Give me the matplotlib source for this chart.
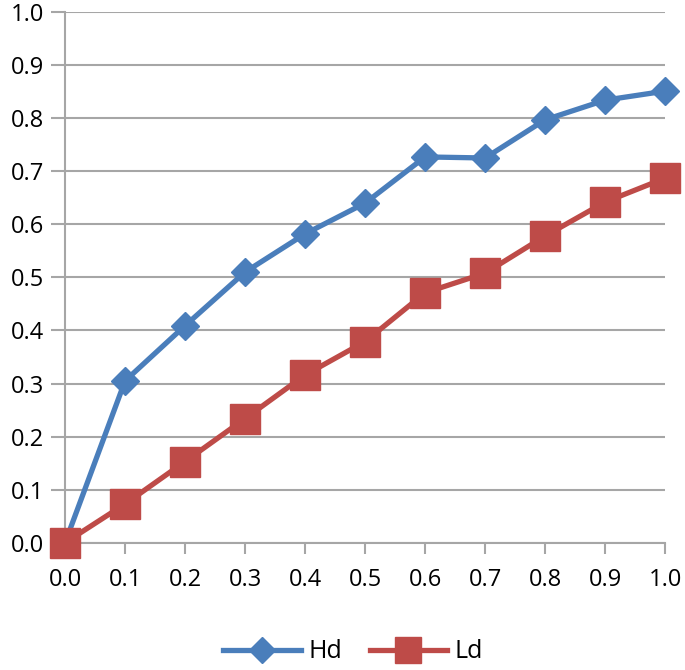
import matplotlib.pyplot as plt
import numpy as np

x = [0.0, 0.1, 0.2, 0.3, 0.4, 0.5, 0.6, 0.7, 0.8, 0.9, 1.0]
hd = [0.0, 0.305, 0.409, 0.510, 0.582, 0.640, 0.727, 0.725, 0.797, 0.834, 0.851]
ld = [0.0, 0.073, 0.153, 0.234, 0.316, 0.379, 0.471, 0.508, 0.578, 0.642, 0.687]

plt.rcParams['font.family'] = ['Open Sans', 'DejaVu Sans']

fig = plt.figure(figsize=(6.85, 6.7), dpi=100)
ax = fig.add_axes([0.095, 0.19, 0.876, 0.792])

ax.plot(x, hd, color='#4a7ebb', linewidth=3.8, marker='D', markersize=14.5,
        label='Hd', clip_on=False, zorder=3)
ax.plot(x, ld, color='#be4b48', linewidth=3.8, marker='s', markersize=21,
        label='Ld', clip_on=False, zorder=3)

ax.set_xlim(0, 1.0)
ax.set_ylim(0, 1.0)
ax.set_xticks(np.arange(0, 1.01, 0.1))
ax.set_yticks(np.arange(0, 1.01, 0.1))
ax.set_xticklabels([f'{v:.1f}' for v in np.arange(0, 1.01, 0.1)])
ax.set_yticklabels([f'{v:.1f}' for v in np.arange(0, 1.01, 0.1)])

ax.grid(axis='y', color='#a6a6a6', linewidth=1.5)
ax.set_axisbelow(True)
for s in ['top', 'right']:
    ax.spines[s].set_visible(False)
for s in ['left', 'bottom']:
    ax.spines[s].set_color('#a6a6a6')
    ax.spines[s].set_linewidth(1.5)
ax.tick_params(axis='y', length=10, width=1.5, color='#a6a6a6', labelsize=17, pad=5)
ax.tick_params(axis='x', length=8, width=1.5, color='#a6a6a6', labelsize=17, pad=10)

ax.legend(loc='upper center', bbox_to_anchor=(0.48, -0.14), ncol=2, frameon=False,
          fontsize=18, handlelength=3.1, columnspacing=1.1, handletextpad=0.3,
          markerscale=0.9)

fig.savefig('out.png', dpi=100, facecolor='white')
